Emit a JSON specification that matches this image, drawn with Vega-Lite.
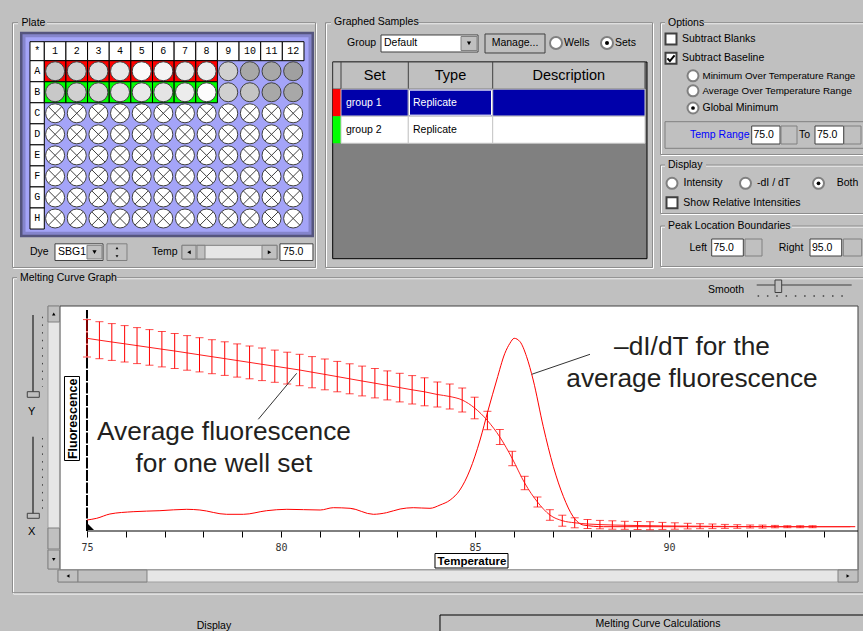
{
"$schema":"https://vega.github.io/schema/vega-lite/v6.json",
"background":"#c0c0c0",
"padding":0,
"autosize":{"type":"none"},
"width":863,
"height":631,
"data":{"values":[{}]},
"datasets":{
"wells":[
{"row":"A","rowNum":1,"col":1,"set":"group 1","signal":0.42},{"row":"A","rowNum":1,"col":2,"set":"group 1","signal":0.5},{"row":"A","rowNum":1,"col":3,"set":"group 1","signal":0.63},{"row":"A","rowNum":1,"col":4,"set":"group 1","signal":0.76},{"row":"A","rowNum":1,"col":5,"set":"group 1","signal":0.95},{"row":"A","rowNum":1,"col":6,"set":"group 1","signal":0.88},{"row":"A","rowNum":1,"col":7,"set":"group 1","signal":0.76},{"row":"A","rowNum":1,"col":8,"set":"group 1","signal":0.8},{"row":"A","rowNum":1,"col":9,"signal":0.5},{"row":"A","rowNum":1,"col":10,"signal":0.08},{"row":"A","rowNum":1,"col":11,"signal":0.08},{"row":"A","rowNum":1,"col":12,"signal":0},
{"row":"B","rowNum":2,"col":1,"set":"group 2","signal":0.42},{"row":"B","rowNum":2,"col":2,"set":"group 2","signal":0.5},{"row":"B","rowNum":2,"col":3,"set":"group 2","signal":0.55},{"row":"B","rowNum":2,"col":4,"set":"group 2","signal":0.67},{"row":"B","rowNum":2,"col":5,"set":"group 2","signal":0.76},{"row":"B","rowNum":2,"col":6,"set":"group 2","signal":0.72},{"row":"B","rowNum":2,"col":7,"set":"group 2","signal":0.8},{"row":"B","rowNum":2,"col":8,"set":"group 2","signal":0.97},{"row":"B","rowNum":2,"col":9,"signal":0.5},{"row":"B","rowNum":2,"col":10,"signal":0.38},{"row":"B","rowNum":2,"col":11,"signal":0.08},{"row":"B","rowNum":2,"col":12,"signal":0.08},
{"row":"C","rowNum":3,"col":1},{"row":"C","rowNum":3,"col":2},{"row":"C","rowNum":3,"col":3},{"row":"C","rowNum":3,"col":4},{"row":"C","rowNum":3,"col":5},{"row":"C","rowNum":3,"col":6},{"row":"C","rowNum":3,"col":7},{"row":"C","rowNum":3,"col":8},{"row":"C","rowNum":3,"col":9},{"row":"C","rowNum":3,"col":10},{"row":"C","rowNum":3,"col":11},{"row":"C","rowNum":3,"col":12},
{"row":"D","rowNum":4,"col":1},{"row":"D","rowNum":4,"col":2},{"row":"D","rowNum":4,"col":3},{"row":"D","rowNum":4,"col":4},{"row":"D","rowNum":4,"col":5},{"row":"D","rowNum":4,"col":6},{"row":"D","rowNum":4,"col":7},{"row":"D","rowNum":4,"col":8},{"row":"D","rowNum":4,"col":9},{"row":"D","rowNum":4,"col":10},{"row":"D","rowNum":4,"col":11},{"row":"D","rowNum":4,"col":12},
{"row":"E","rowNum":5,"col":1},{"row":"E","rowNum":5,"col":2},{"row":"E","rowNum":5,"col":3},{"row":"E","rowNum":5,"col":4},{"row":"E","rowNum":5,"col":5},{"row":"E","rowNum":5,"col":6},{"row":"E","rowNum":5,"col":7},{"row":"E","rowNum":5,"col":8},{"row":"E","rowNum":5,"col":9},{"row":"E","rowNum":5,"col":10},{"row":"E","rowNum":5,"col":11},{"row":"E","rowNum":5,"col":12},
{"row":"F","rowNum":6,"col":1},{"row":"F","rowNum":6,"col":2},{"row":"F","rowNum":6,"col":3},{"row":"F","rowNum":6,"col":4},{"row":"F","rowNum":6,"col":5},{"row":"F","rowNum":6,"col":6},{"row":"F","rowNum":6,"col":7},{"row":"F","rowNum":6,"col":8},{"row":"F","rowNum":6,"col":9},{"row":"F","rowNum":6,"col":10},{"row":"F","rowNum":6,"col":11},{"row":"F","rowNum":6,"col":12},
{"row":"G","rowNum":7,"col":1},{"row":"G","rowNum":7,"col":2},{"row":"G","rowNum":7,"col":3},{"row":"G","rowNum":7,"col":4},{"row":"G","rowNum":7,"col":5},{"row":"G","rowNum":7,"col":6},{"row":"G","rowNum":7,"col":7},{"row":"G","rowNum":7,"col":8},{"row":"G","rowNum":7,"col":9},{"row":"G","rowNum":7,"col":10},{"row":"G","rowNum":7,"col":11},{"row":"G","rowNum":7,"col":12},
{"row":"H","rowNum":8,"col":1},{"row":"H","rowNum":8,"col":2},{"row":"H","rowNum":8,"col":3},{"row":"H","rowNum":8,"col":4},{"row":"H","rowNum":8,"col":5},{"row":"H","rowNum":8,"col":6},{"row":"H","rowNum":8,"col":7},{"row":"H","rowNum":8,"col":8},{"row":"H","rowNum":8,"col":9},{"row":"H","rowNum":8,"col":10},{"row":"H","rowNum":8,"col":11},{"row":"H","rowNum":8,"col":12}
],
"samples":[
{"order":1,"set":"group 1","type":"Replicate","description":"","state":"selected"},
{"order":2,"set":"group 2","type":"Replicate","description":"","state":"normal"}
],
"curve":[
{"temp":75.00,"fluor":1927,"err":187},{"temp":75.32,"fluor":1908,"err":185},{"temp":75.64,"fluor":1890,"err":184},{"temp":75.97,"fluor":1872,"err":182},{"temp":76.29,"fluor":1854,"err":180},{"temp":76.61,"fluor":1836,"err":178},{"temp":76.93,"fluor":1818,"err":177},{"temp":77.26,"fluor":1800,"err":175},{"temp":77.58,"fluor":1781,"err":173},{"temp":77.90,"fluor":1762,"err":171},
{"temp":78.22,"fluor":1743,"err":170},{"temp":78.55,"fluor":1724,"err":168},{"temp":78.87,"fluor":1705,"err":166},{"temp":79.19,"fluor":1686,"err":164},{"temp":79.51,"fluor":1667,"err":163},{"temp":79.84,"fluor":1648,"err":161},{"temp":80.16,"fluor":1629,"err":159},{"temp":80.48,"fluor":1610,"err":157},{"temp":80.80,"fluor":1588,"err":156},{"temp":81.13,"fluor":1566,"err":154},
{"temp":81.45,"fluor":1544,"err":152},{"temp":81.77,"fluor":1522,"err":150},{"temp":82.09,"fluor":1500,"err":149},{"temp":82.42,"fluor":1478,"err":147},{"temp":82.74,"fluor":1456,"err":145},{"temp":83.06,"fluor":1434,"err":143},{"temp":83.38,"fluor":1412,"err":142},{"temp":83.70,"fluor":1392,"err":140},{"temp":84.03,"fluor":1365,"err":125},{"temp":84.35,"fluor":1345,"err":125},
{"temp":84.67,"fluor":1310,"err":120},{"temp":84.99,"fluor":1230,"err":108},{"temp":85.32,"fluor":1105,"err":92},{"temp":85.64,"fluor":940,"err":75},{"temp":85.96,"fluor":725,"err":72},{"temp":86.28,"fluor":480,"err":67},{"temp":86.61,"fluor":290,"err":50},{"temp":86.93,"fluor":160,"err":53},{"temp":87.25,"fluor":103,"err":55},{"temp":87.57,"fluor":82,"err":50},
{"temp":87.90,"fluor":70,"err":45},{"temp":88.22,"fluor":64,"err":42},{"temp":88.54,"fluor":60,"err":42},{"temp":88.86,"fluor":57,"err":40},{"temp":89.19,"fluor":55,"err":40},{"temp":89.51,"fluor":53,"err":40},{"temp":89.83,"fluor":51,"err":35},{"temp":90.15,"fluor":50,"err":32},{"temp":90.48,"fluor":49,"err":28},{"temp":90.80,"fluor":48,"err":25},
{"temp":91.12,"fluor":47,"err":23},{"temp":91.44,"fluor":46,"err":20},{"temp":91.76,"fluor":45,"err":18},{"temp":92.09,"fluor":45,"err":15},{"temp":92.41,"fluor":44,"err":15},{"temp":92.73,"fluor":44,"err":12},{"temp":93.05,"fluor":43,"err":10},{"temp":93.38,"fluor":43,"err":10},{"temp":93.70,"fluor":43,"err":10},{"temp":94.02,"fluor":43,"err":0},
{"temp":94.34,"fluor":43,"err":0},{"temp":94.67,"fluor":43,"err":0}
],
"derivative":[
{"temp":75.00,"value":110},{"temp":75.25,"value":127},{"temp":75.59,"value":170},{"temp":76.19,"value":193},{"temp":76.88,"value":203},{"temp":77.57,"value":217},{"temp":77.91,"value":210},{"temp":78.60,"value":167},{"temp":79.03,"value":167},{"temp":79.63,"value":203},
{"temp":80.15,"value":217},{"temp":81.01,"value":210},{"temp":81.35,"value":233},{"temp":81.78,"value":227},{"temp":82.38,"value":167},{"temp":82.72,"value":183},{"temp":83.07,"value":220},{"temp":83.41,"value":233},{"temp":83.84,"value":227},{"temp":84.10,"value":260},
{"temp":84.36,"value":310},{"temp":84.61,"value":410},{"temp":84.87,"value":610},{"temp":85.13,"value":910},{"temp":85.34,"value":1210},{"temp":85.56,"value":1510},{"temp":85.77,"value":1777},{"temp":85.90,"value":1877},{"temp":86.01,"value":1927},{"temp":86.16,"value":1893},
{"temp":86.33,"value":1743},{"temp":86.50,"value":1510},{"temp":86.76,"value":1043},{"temp":87.02,"value":643},{"temp":87.28,"value":343},{"temp":87.53,"value":143},{"temp":87.79,"value":60},{"temp":88.31,"value":43},{"temp":90.00,"value":43},{"temp":92.00,"value":43},{"temp":94.80,"value":43}
]
},
"resolve":{"scale":{"x":"independent","y":"independent","fill":"independent","color":"independent"},"axis":{"x":"independent","y":"independent"}},
"layer":[
{
"resolve":{"scale":{"fill":"independent"}},
"layer":[
{"mark":{"type":"rect","filled":false,"color":"#ffffff"},"encoding":{"x":{"datum":-0.9233,"type":"quantitative","scale":{"domain":[-1.547,38.333],"nice":false,"zero":false},"axis":null},"x2":{"datum":13.078},"y":{"datum":-1.2586,"type":"quantitative","scale":{"domain":[-2.385,27.606],"nice":false,"zero":false,"reverse":true},"axis":null},"y2":{"datum":10.377}}},
{"mark":{"type":"rect","filled":false,"color":"#8c8c8c"},"encoding":{"x":{"datum":-0.9695,"axis":null},"x2":{"datum":13.032},"y":{"datum":-1.306,"axis":null},"y2":{"datum":10.329}}},
{"mark":{"type":"rect","fill":"#c0c0c0"},"encoding":{"x":{"datum":-0.7153,"axis":null},"x2":{"datum":0.6248},"y":{"datum":-1.6245,"axis":null},"y2":{"datum":-1.0067}}},
{"mark":{"type":"text","text":"Plate"},"encoding":{"x":{"datum":-0.5536,"axis":null},"y":{"datum":-1.306,"axis":null}}},
{"mark":{"type":"rect","fill":"#55557e"},"encoding":{"x":{"datum":-0.6229,"axis":null},"x2":{"datum":12.963},"y":{"datum":-0.8783,"axis":null},"y2":{"datum":8.8935}}},
{"mark":{"type":"rect","fill":"#8585cc"},"encoding":{"x":{"datum":-0.5074,"axis":null},"x2":{"datum":12.8475},"y":{"datum":-0.7595,"axis":null},"y2":{"datum":8.7747}}},
{"mark":{"type":"rect","fill":"#a4a4f8"},"encoding":{"x":{"datum":-0.3688,"axis":null},"x2":{"datum":12.7089},"y":{"datum":-0.6169,"axis":null},"y2":{"datum":8.6321}}},
{"mark":{"type":"rect","fill":"#ffffff","stroke":"#000000"},"encoding":{"x":{"datum":-0.1608,"axis":null},"x2":{"datum":0.5},"y":{"datum":-0.403,"axis":null},"y2":{"datum":0.5}}},
{"mark":{"type":"text","text":"*","align":"center","font":"Liberation Mono","fontSize":10},"encoding":{"x":{"datum":0.1719,"axis":null},"y":{"datum":0.0485,"axis":null}}},
{"data":{"name":"wells"},"transform":[{"aggregate":[{"op":"count","as":"n"}],"groupby":["col"]}],"mark":{"type":"rect","fill":"#ffffff","stroke":"#000000","width":21.64},"encoding":{"x":{"field":"col","type":"quantitative","axis":null},"y":{"datum":-0.403,"axis":null},"y2":{"datum":0.5}}},
{"data":{"name":"wells"},"transform":[{"aggregate":[{"op":"count","as":"n"}],"groupby":["col"]}],"mark":{"type":"text","align":"center","font":"Liberation Mono","fontSize":10},"encoding":{"x":{"field":"col","type":"quantitative","axis":null},"y":{"datum":0.0485,"axis":null},"text":{"field":"col"}}},
{"data":{"name":"wells"},"transform":[{"aggregate":[{"op":"count","as":"n"}],"groupby":["row","rowNum"]}],"mark":{"type":"rect","fill":"#ffffff","stroke":"#000000","height":21.04},"encoding":{"x":{"datum":-0.1608,"axis":null},"x2":{"datum":0.5},"y":{"field":"rowNum","type":"quantitative","axis":null}}},
{"data":{"name":"wells"},"transform":[{"aggregate":[{"op":"count","as":"n"}],"groupby":["row","rowNum"]}],"mark":{"type":"text","align":"center","font":"Liberation Mono","fontSize":10},"encoding":{"x":{"datum":0.1719,"axis":null},"y":{"field":"rowNum","type":"quantitative","axis":null},"text":{"field":"row"}}},
{"data":{"name":"wells"},"transform":[{"filter":"datum.set != null"}],"mark":{"type":"rect","stroke":"#000000","width":21.64,"height":21.04},"encoding":{"x":{"field":"col","type":"quantitative","axis":null},"y":{"field":"rowNum","type":"quantitative","axis":null},"fill":{"field":"set","type":"nominal","scale":{"domain":["group 1","group 2"],"range":["#ff0000","#00ff00"]},"legend":null}}},
{"data":{"name":"wells"},"transform":[{"filter":"datum.signal != null"}],"mark":{"type":"point","shape":"circle","filled":true,"size":361,"stroke":"#404040","strokeWidth":1,"opacity":1},"encoding":{"x":{"field":"col","type":"quantitative","axis":null},"y":{"field":"rowNum","type":"quantitative","axis":null},"fill":{"field":"signal","type":"quantitative","scale":{"domain":[0,1],"range":["#a0a0a0","#ffffff"],"interpolate":"rgb"},"legend":null}}},
{"data":{"name":"wells"},"transform":[{"filter":"datum.signal == null"}],"mark":{"type":"point","shape":"circle","filled":true,"fill":"#ffffff","size":361,"stroke":"#404040","strokeWidth":1,"opacity":1},"encoding":{"x":{"field":"col","type":"quantitative","axis":null},"y":{"field":"rowNum","type":"quantitative","axis":null}}},
{"data":{"name":"wells"},"transform":[{"filter":"datum.signal == null"}],"mark":{"type":"point","shape":"M-0.7,-0.7L0.7,0.7M-0.7,0.7L0.7,-0.7","filled":false,"size":361,"stroke":"#404040","strokeWidth":1,"opacity":1},"encoding":{"x":{"field":"col","type":"quantitative","axis":null},"y":{"field":"rowNum","type":"quantitative","axis":null}}},
{"mark":{"type":"text","text":"Dye"},"encoding":{"x":{"datum":-0.1608,"axis":null},"y":{"datum":9.5922,"axis":null}}},
{"mark":{"type":"rect","fill":"#ffffff","stroke":"#404040"},"encoding":{"x":{"datum":0.9945,"axis":null},"x2":{"datum":3.2126},"y":{"datum":9.2034,"axis":null},"y2":{"datum":9.9962}}},
{"mark":{"type":"text","text":"SBG1"},"encoding":{"x":{"datum":1.1331,"axis":null},"y":{"datum":9.5922,"axis":null}}},
{"mark":{"type":"rect","fill":"#c0c0c0","stroke":"#808080"},"encoding":{"x":{"datum":2.4732,"axis":null},"x2":{"datum":3.1664},"y":{"datum":9.2747,"axis":null},"y2":{"datum":9.9249}}},
{"mark":{"type":"point","shape":"triangle-down","filled":true,"color":"#000000","size":18,"opacity":1},"encoding":{"x":{"datum":2.8198,"axis":null},"y":{"datum":9.6,"axis":null}}},
{"mark":{"type":"rect","fill":"#c0c0c0","stroke":"#808080"},"encoding":{"x":{"datum":3.3974,"axis":null},"x2":{"datum":4.3216},"y":{"datum":9.2034,"axis":null},"y2":{"datum":9.9962}}},
{"mark":{"type":"point","shape":"triangle-up","filled":true,"color":"#000000","size":8,"opacity":1},"encoding":{"x":{"datum":3.8595,"axis":null},"y":{"datum":9.40,"axis":null}}},
{"mark":{"type":"point","shape":"triangle-down","filled":true,"color":"#000000","size":8,"opacity":1},"encoding":{"x":{"datum":3.8595,"axis":null},"y":{"datum":9.80,"axis":null}}},
{"mark":{"type":"text","text":"Temp"},"encoding":{"x":{"datum":5.4769,"axis":null},"y":{"datum":9.5922,"axis":null}}},
{"mark":{"type":"rect","fill":"#e6e6e6","stroke":"#808080"},"encoding":{"x":{"datum":6.8632,"axis":null},"x2":{"datum":11.2532},"y":{"datum":9.2747,"axis":null},"y2":{"datum":9.9249}}},
{"mark":{"type":"rect","fill":"#c0c0c0","stroke":"#808080"},"encoding":{"x":{"datum":6.8632,"axis":null},"x2":{"datum":7.5102},"y":{"datum":9.2747,"axis":null},"y2":{"datum":9.9249}}},
{"mark":{"type":"rect","fill":"#c0c0c0","stroke":"#808080"},"encoding":{"x":{"datum":7.5564,"axis":null},"x2":{"datum":7.9261},"y":{"datum":9.2747,"axis":null},"y2":{"datum":9.9249}}},
{"mark":{"type":"rect","fill":"#c0c0c0","stroke":"#808080"},"encoding":{"x":{"datum":10.5601,"axis":null},"x2":{"datum":11.2532},"y":{"datum":9.2747,"axis":null},"y2":{"datum":9.9249}}},
{"mark":{"type":"point","shape":"triangle-left","filled":true,"color":"#000000","size":16,"opacity":1},"encoding":{"x":{"datum":7.1867,"axis":null},"y":{"datum":9.5998,"axis":null}}},
{"mark":{"type":"point","shape":"triangle-right","filled":true,"color":"#000000","size":16,"opacity":1},"encoding":{"x":{"datum":10.9067,"axis":null},"y":{"datum":9.5998,"axis":null}}},
{"mark":{"type":"rect","fill":"#ffffff","stroke":"#404040"},"encoding":{"x":{"datum":11.39,"axis":null},"x2":{"datum":12.915},"y":{"datum":9.2034,"axis":null},"y2":{"datum":9.9962}}},
{"mark":{"type":"text","text":"75.0"},"encoding":{"x":{"datum":11.5286,"axis":null},"y":{"datum":9.5922,"axis":null}}}
]
},
{
"resolve":{"scale":{"fill":"independent"}},
"layer":[
{"mark":{"type":"rect","filled":false,"color":"#ffffff"},"encoding":{"x":{"datum":1.5,"type":"quantitative","scale":{"domain":[-325,538],"nice":false,"zero":false},"axis":null},"x2":{"datum":328.5},"y":{"datum":-1.9133,"type":"quantitative","scale":{"domain":[-2.7878,20.4963],"nice":false,"zero":false,"reverse":true},"axis":null},"y2":{"datum":7.1199}}},
{"mark":{"type":"rect","filled":false,"color":"#8c8c8c"},"encoding":{"x":{"datum":0.5,"axis":null},"x2":{"datum":327.5},"y":{"datum":-1.9502,"axis":null},"y2":{"datum":7.083}}},
{"mark":{"type":"rect","fill":"#c0c0c0"},"encoding":{"x":{"datum":6,"axis":null},"x2":{"datum":92},"y":{"datum":-2.1974,"axis":null},"y2":{"datum":-1.7177}}},
{"mark":{"type":"text","text":"Graphed Samples"},"encoding":{"x":{"datum":9,"axis":null},"y":{"datum":-1.9576,"axis":null}}},
{"mark":{"type":"text","text":"Group"},"encoding":{"x":{"datum":22,"axis":null},"y":{"datum":-1.2011,"axis":null}}},
{"mark":{"type":"rect","fill":"#ffffff","stroke":"#404040"},"encoding":{"x":{"datum":56,"axis":null},"x2":{"datum":153},"y":{"datum":-1.4963,"axis":null},"y2":{"datum":-0.869}}},
{"mark":{"type":"text","text":"Default"},"encoding":{"x":{"datum":59,"axis":null},"y":{"datum":-1.2011,"axis":null}}},
{"mark":{"type":"rect","fill":"#c0c0c0","stroke":"#808080"},"encoding":{"x":{"datum":136,"axis":null},"x2":{"datum":152},"y":{"datum":-1.441,"axis":null},"y2":{"datum":-0.9244}}},
{"mark":{"type":"point","shape":"triangle-down","filled":true,"color":"#000000","size":18,"opacity":1},"encoding":{"x":{"datum":144,"axis":null},"y":{"datum":-1.19,"axis":null}}},
{"mark":{"type":"rect","fill":"#c0c0c0","stroke":"#404040"},"encoding":{"x":{"datum":160,"axis":null},"x2":{"datum":220},"y":{"datum":-1.5332,"axis":null},"y2":{"datum":-0.8321}}},
{"mark":{"type":"text","text":"Manage...","align":"center"},"encoding":{"x":{"datum":190,"axis":null},"y":{"datum":-1.2011,"axis":null}}},
{"mark":{"type":"point","shape":"circle","filled":true,"fill":"#ffffff","stroke":"#808080","size":144,"opacity":1},"encoding":{"x":{"datum":231,"axis":null},"y":{"datum":-1.2011,"axis":null}}},
{"mark":{"type":"text","text":"Wells"},"encoding":{"x":{"datum":239,"axis":null},"y":{"datum":-1.2011,"axis":null}}},
{"mark":{"type":"point","shape":"circle","filled":true,"fill":"#ffffff","stroke":"#808080","size":144,"opacity":1},"encoding":{"x":{"datum":282,"axis":null},"y":{"datum":-1.2011,"axis":null}}},
{"mark":{"type":"point","shape":"circle","filled":true,"color":"#000000","size":16,"opacity":1},"encoding":{"x":{"datum":282,"axis":null},"y":{"datum":-1.2011,"axis":null}}},
{"mark":{"type":"text","text":"Sets"},"encoding":{"x":{"datum":290,"axis":null},"y":{"datum":-1.2011,"axis":null}}},
{"mark":{"type":"rect","fill":"#808080","stroke":"#000000"},"encoding":{"x":{"datum":7.7,"axis":null},"x2":{"datum":322},"y":{"datum":-0.5,"axis":null},"y2":{"datum":6.7583}}},
{"mark":{"type":"rect","fill":"#c0c0c0","stroke":"#404040"},"encoding":{"x":{"datum":7.7,"axis":null},"x2":{"datum":320},"y":{"datum":-0.5,"axis":null},"y2":{"datum":0.5}}},
{"mark":{"type":"rule","color":"#404040"},"encoding":{"x":{"datum":16,"axis":null},"y":{"datum":-0.5,"axis":null},"y2":{"datum":0.5}}},
{"mark":{"type":"rule","color":"#404040"},"encoding":{"x":{"datum":83.3,"axis":null},"y":{"datum":-0.5,"axis":null},"y2":{"datum":0.5}}},
{"mark":{"type":"rule","color":"#404040"},"encoding":{"x":{"datum":167.7,"axis":null},"y":{"datum":-0.5,"axis":null},"y2":{"datum":0.5}}},
{"mark":{"type":"text","text":"Set","align":"center","fontSize":14.5},"encoding":{"x":{"datum":49.6,"axis":null},"y":{"datum":0.02,"axis":null}}},
{"mark":{"type":"text","text":"Type","align":"center","fontSize":14.5},"encoding":{"x":{"datum":125.5,"axis":null},"y":{"datum":0.02,"axis":null}}},
{"mark":{"type":"text","text":"Description","align":"center","fontSize":14.5},"encoding":{"x":{"datum":243.8,"axis":null},"y":{"datum":0.02,"axis":null}}},
{"data":{"name":"samples"},"mark":{"type":"rect","height":27},"encoding":{"x":{"datum":7.7,"axis":null},"x2":{"datum":16},"y":{"field":"order","type":"quantitative","axis":null},"fill":{"field":"set","type":"nominal","scale":{"domain":["group 1","group 2"],"range":["#ff0000","#00ff00"]},"legend":null}}},
{"data":{"name":"samples"},"mark":{"type":"rect","height":27,"stroke":"#c8c8c8"},"encoding":{"x":{"datum":16,"axis":null},"x2":{"datum":83.3},"y":{"field":"order","type":"quantitative","axis":null},"fill":{"field":"state","type":"nominal","scale":{"domain":["selected","normal"],"range":["#0000aa","#ffffff"]},"legend":null}}},
{"data":{"name":"samples"},"mark":{"type":"rect","height":27,"stroke":"#c8c8c8"},"encoding":{"x":{"datum":83.3,"axis":null},"x2":{"datum":167.7},"y":{"field":"order","type":"quantitative","axis":null},"fill":{"field":"state","type":"nominal","scale":{"domain":["selected","normal"],"range":["#0000aa","#ffffff"]},"legend":null}}},
{"data":{"name":"samples"},"mark":{"type":"rect","height":27,"stroke":"#c8c8c8"},"encoding":{"x":{"datum":167.7,"axis":null},"x2":{"datum":320},"y":{"field":"order","type":"quantitative","axis":null},"fill":{"field":"state","type":"nominal","scale":{"domain":["selected","normal"],"range":["#0000aa","#ffffff"]},"legend":null}}},
{"data":{"name":"samples"},"transform":[{"filter":"datum.state == 'selected'"}],"mark":{"type":"rect","height":25,"filled":false,"color":"#ffffff"},"encoding":{"x":{"datum":84.5,"axis":null},"x2":{"datum":166.5},"y":{"field":"order","type":"quantitative","axis":null}}},
{"data":{"name":"samples"},"mark":{"type":"text"},"encoding":{"x":{"datum":21,"axis":null},"y":{"field":"order","type":"quantitative","axis":null},"text":{"field":"set"},"fill":{"field":"state","type":"nominal","scale":{"domain":["selected","normal"],"range":["#ffffff","#000000"]},"legend":null}}},
{"data":{"name":"samples"},"mark":{"type":"text"},"encoding":{"x":{"datum":88,"axis":null},"y":{"field":"order","type":"quantitative","axis":null},"text":{"field":"type"},"fill":{"field":"state","type":"nominal","scale":{"domain":["selected","normal"],"range":["#ffffff","#000000"]},"legend":null}}}
]
},
{
"layer":[
{"mark":{"type":"rect","filled":false,"color":"#ffffff","clip":true},"encoding":{"x":{"datum":1.5,"type":"quantitative","scale":{"domain":[-660,203],"nice":false,"zero":false},"axis":null},"x2":{"datum":216},"y":{"datum":23.7,"type":"quantitative","scale":{"domain":[0,631],"nice":false,"zero":false,"reverse":true},"axis":null},"y2":{"datum":155.5}}},
{"mark":{"type":"rect","filled":false,"color":"#8c8c8c","clip":true},"encoding":{"x":{"datum":0.5,"axis":null},"x2":{"datum":215},"y":{"datum":22.7,"axis":null},"y2":{"datum":154.5}}},
{"mark":{"type":"rect","filled":false,"color":"#ffffff","clip":true},"encoding":{"x":{"datum":1.5,"axis":null},"x2":{"datum":216},"y":{"datum":166,"axis":null},"y2":{"datum":214.5}}},
{"mark":{"type":"rect","filled":false,"color":"#8c8c8c","clip":true},"encoding":{"x":{"datum":0.5,"axis":null},"x2":{"datum":215},"y":{"datum":165,"axis":null},"y2":{"datum":213.5}}},
{"mark":{"type":"rect","filled":false,"color":"#ffffff","clip":true},"encoding":{"x":{"datum":1.5,"axis":null},"x2":{"datum":216},"y":{"datum":227,"axis":null},"y2":{"datum":267.5}}},
{"mark":{"type":"rect","filled":false,"color":"#8c8c8c","clip":true},"encoding":{"x":{"datum":0.5,"axis":null},"x2":{"datum":215},"y":{"datum":226,"axis":null},"y2":{"datum":266.5}}},
{"mark":{"type":"rect","fill":"#c0c0c0"},"encoding":{"x":{"datum":5,"axis":null},"x2":{"datum":44},"y":{"datum":16,"axis":null},"y2":{"datum":29}}},
{"mark":{"type":"text","text":"Options"},"encoding":{"x":{"datum":8,"axis":null},"y":{"datum":22.5,"axis":null}}},
{"mark":{"type":"rect","fill":"#c0c0c0"},"encoding":{"x":{"datum":5,"axis":null},"x2":{"datum":46},"y":{"datum":158,"axis":null},"y2":{"datum":171}}},
{"mark":{"type":"text","text":"Display"},"encoding":{"x":{"datum":8,"axis":null},"y":{"datum":164.5,"axis":null}}},
{"mark":{"type":"rect","fill":"#c0c0c0"},"encoding":{"x":{"datum":5,"axis":null},"x2":{"datum":132},"y":{"datum":219,"axis":null},"y2":{"datum":232}}},
{"mark":{"type":"text","text":"Peak Location Boundaries"},"encoding":{"x":{"datum":8,"axis":null},"y":{"datum":225.5,"axis":null}}},
{"mark":{"type":"point","shape":"square","filled":true,"fill":"#ffffff","stroke":"#404040","size":121,"opacity":1},"encoding":{"x":{"datum":11,"axis":null},"y":{"datum":39,"axis":null}}},
{"mark":{"type":"text","text":"Subtract Blanks"},"encoding":{"x":{"datum":22,"axis":null},"y":{"datum":39,"axis":null}}},
{"mark":{"type":"point","shape":"square","filled":true,"fill":"#ffffff","stroke":"#404040","size":121,"opacity":1},"encoding":{"x":{"datum":11,"axis":null},"y":{"datum":58.3,"axis":null}}},
{"mark":{"type":"point","shape":"M-0.65,0L-0.2,0.5L0.65,-0.55","filled":false,"stroke":"#000000","strokeWidth":2,"size":121,"opacity":1},"encoding":{"x":{"datum":11,"axis":null},"y":{"datum":58.3,"axis":null}}},
{"mark":{"type":"text","text":"Subtract Baseline"},"encoding":{"x":{"datum":22,"axis":null},"y":{"datum":58.3,"axis":null}}},
{"mark":{"type":"point","shape":"circle","filled":true,"fill":"#ffffff","stroke":"#808080","size":121,"opacity":1},"encoding":{"x":{"datum":33,"axis":null},"y":{"datum":75.8,"axis":null}}},
{"mark":{"type":"text","text":"Minimum Over Temperature Range","fontSize":9.8},"encoding":{"x":{"datum":42.5,"axis":null},"y":{"datum":75.8,"axis":null}}},
{"mark":{"type":"point","shape":"circle","filled":true,"fill":"#ffffff","stroke":"#808080","size":121,"opacity":1},"encoding":{"x":{"datum":33,"axis":null},"y":{"datum":90.8,"axis":null}}},
{"mark":{"type":"text","text":"Average Over Temperature Range","fontSize":9.8},"encoding":{"x":{"datum":42.5,"axis":null},"y":{"datum":90.8,"axis":null}}},
{"mark":{"type":"point","shape":"circle","filled":true,"fill":"#ffffff","stroke":"#808080","size":121,"opacity":1},"encoding":{"x":{"datum":33,"axis":null},"y":{"datum":108,"axis":null}}},
{"mark":{"type":"point","shape":"circle","filled":true,"color":"#000000","size":14,"opacity":1},"encoding":{"x":{"datum":33,"axis":null},"y":{"datum":108,"axis":null}}},
{"mark":{"type":"text","text":"Global Minimum"},"encoding":{"x":{"datum":42.5,"axis":null},"y":{"datum":108,"axis":null}}},
{"mark":{"type":"rect","filled":false,"color":"#808080","clip":true},"encoding":{"x":{"datum":5,"axis":null},"x2":{"datum":215},"y":{"datum":121.7,"axis":null},"y2":{"datum":148.3}}},
{"mark":{"type":"text","text":"Temp Range","color":"#0000ff"},"encoding":{"x":{"datum":30,"axis":null},"y":{"datum":135,"axis":null}}},
{"mark":{"type":"rect","fill":"#ffffff","stroke":"#404040"},"encoding":{"x":{"datum":91.7,"axis":null},"x2":{"datum":120},"y":{"datum":126,"axis":null},"y2":{"datum":144}}},
{"mark":{"type":"text","text":"75.0"},"encoding":{"x":{"datum":93.5,"axis":null},"y":{"datum":135,"axis":null}}},
{"mark":{"type":"rect","fill":"#c0c0c0","stroke":"#808080"},"encoding":{"x":{"datum":121,"axis":null},"x2":{"datum":137},"y":{"datum":126,"axis":null},"y2":{"datum":144}}},
{"mark":{"type":"text","text":"To"},"encoding":{"x":{"datum":139,"axis":null},"y":{"datum":135,"axis":null}}},
{"mark":{"type":"rect","fill":"#ffffff","stroke":"#404040"},"encoding":{"x":{"datum":155,"axis":null},"x2":{"datum":183.5},"y":{"datum":126,"axis":null},"y2":{"datum":144}}},
{"mark":{"type":"text","text":"75.0"},"encoding":{"x":{"datum":157,"axis":null},"y":{"datum":135,"axis":null}}},
{"mark":{"type":"rect","fill":"#c0c0c0","stroke":"#808080"},"encoding":{"x":{"datum":184,"axis":null},"x2":{"datum":201},"y":{"datum":126,"axis":null},"y2":{"datum":144}}},
{"mark":{"type":"point","shape":"circle","filled":true,"fill":"#ffffff","stroke":"#808080","size":121,"opacity":1},"encoding":{"x":{"datum":12,"axis":null},"y":{"datum":183.3,"axis":null}}},
{"mark":{"type":"text","text":"Intensity"},"encoding":{"x":{"datum":23.5,"axis":null},"y":{"datum":183.3,"axis":null}}},
{"mark":{"type":"point","shape":"circle","filled":true,"fill":"#ffffff","stroke":"#808080","size":121,"opacity":1},"encoding":{"x":{"datum":85.5,"axis":null},"y":{"datum":183.3,"axis":null}}},
{"mark":{"type":"text","text":"-dI / dT"},"encoding":{"x":{"datum":97,"axis":null},"y":{"datum":183.3,"axis":null}}},
{"mark":{"type":"point","shape":"circle","filled":true,"fill":"#ffffff","stroke":"#808080","size":121,"opacity":1},"encoding":{"x":{"datum":158.5,"axis":null},"y":{"datum":183.3,"axis":null}}},
{"mark":{"type":"point","shape":"circle","filled":true,"color":"#000000","size":14,"opacity":1},"encoding":{"x":{"datum":158.5,"axis":null},"y":{"datum":183.3,"axis":null}}},
{"mark":{"type":"text","text":"Both"},"encoding":{"x":{"datum":176.7,"axis":null},"y":{"datum":183.3,"axis":null}}},
{"mark":{"type":"point","shape":"square","filled":true,"fill":"#ffffff","stroke":"#404040","size":121,"opacity":1},"encoding":{"x":{"datum":12,"axis":null},"y":{"datum":202.8,"axis":null}}},
{"mark":{"type":"text","text":"Show Relative Intensities"},"encoding":{"x":{"datum":23.3,"axis":null},"y":{"datum":202.8,"axis":null}}},
{"mark":{"type":"text","text":"Left","align":"right"},"encoding":{"x":{"datum":47,"axis":null},"y":{"datum":247.5,"axis":null}}},
{"mark":{"type":"rect","fill":"#ffffff","stroke":"#404040"},"encoding":{"x":{"datum":51.7,"axis":null},"x2":{"datum":83.3},"y":{"datum":239,"axis":null},"y2":{"datum":256}}},
{"mark":{"type":"text","text":"75.0"},"encoding":{"x":{"datum":53.5,"axis":null},"y":{"datum":247.5,"axis":null}}},
{"mark":{"type":"rect","fill":"#c0c0c0","stroke":"#808080"},"encoding":{"x":{"datum":85,"axis":null},"x2":{"datum":102},"y":{"datum":239,"axis":null},"y2":{"datum":256}}},
{"mark":{"type":"text","text":"Right","align":"right"},"encoding":{"x":{"datum":143.3,"axis":null},"y":{"datum":247.5,"axis":null}}},
{"mark":{"type":"rect","fill":"#ffffff","stroke":"#404040"},"encoding":{"x":{"datum":150,"axis":null},"x2":{"datum":181.7},"y":{"datum":239,"axis":null},"y2":{"datum":256}}},
{"mark":{"type":"text","text":"95.0"},"encoding":{"x":{"datum":152,"axis":null},"y":{"datum":247.5,"axis":null}}},
{"mark":{"type":"rect","fill":"#c0c0c0","stroke":"#808080"},"encoding":{"x":{"datum":183.3,"axis":null},"x2":{"datum":201.7},"y":{"datum":239,"axis":null},"y2":{"datum":256}}}
]
},
{
"layer":[
{"mark":{"type":"rect","filled":false,"color":"#ffffff","clip":true},"encoding":{
"x":{"datum":73.106,"type":"quantitative","scale":{"domain":[72.758,95.0],"nice":false,"zero":false},
"axis":{"orient":"bottom","offset":-100,"values":[75,76,77,78,79,80,81,82,83,84,85,86,87,88,89,90,91,92,93,94],"domain":false,"grid":false,"tickSize":6,"tickColor":"#000000","tickWidth":1,"labelExpr":"datum.value % 5 === 0 ? datum.label : ''","labelFont":"DejaVu Sans Mono","labelFontSize":10,"labelColor":"#333333","labelPadding":5,"labelFlush":false,"labelOverlap":false,"title":"Temperature","titleFont":"Liberation Sans","titleFontSize":11.5,"titleFontWeight":"bold","titleColor":"#000000","titleX":471.5,"titleY":30,"titleBaseline":"middle","titleAlign":"center","zindex":1}},
"x2":{"datum":96},
"y":{"datum":2523,"type":"quantitative","scale":{"domain":[-1000,5310],"nice":false,"zero":false},
"axis":{"orient":"left","offset":-87,"domain":false,"ticks":false,"labels":false,"grid":false,"title":"Fluorescence","titleFont":"Liberation Sans","titleFontSize":12.5,"titleFontWeight":"bold","titleColor":"#000000","titleAngle":270,"titleX":-15,"titleY":418.3,"titleBaseline":"middle","titleAlign":"center","zindex":1}},
"y2":{"datum":-630}}},
{"mark":{"type":"rect","filled":false,"color":"#8c8c8c","clip":true},"encoding":{"x":{"datum":73.08},"x2":{"datum":96},"y":{"datum":2533},"y2":{"datum":-617}}},
{"mark":{"type":"rect","fill":"#c0c0c0"},"encoding":{"x":{"datum":73.196},"x2":{"datum":75.773},"y":{"datum":2600},"y2":{"datum":2470}}},
{"mark":{"type":"text","text":"Melting Curve Graph"},"encoding":{"x":{"datum":73.273},"y":{"datum":2535}}},
{"mark":{"type":"rect","fill":"#ffffff","stroke":"#404040"},"encoding":{"x":{"datum":74.304},"x2":{"datum":94.871},"y":{"datum":2250},"y2":{"datum":-390}}},
{"mark":{"type":"rect","fill":"#e6e6e6","stroke":"#a0a0a0"},"encoding":{"x":{"datum":73.995},"x2":{"datum":74.291},"y":{"datum":2250},"y2":{"datum":-380}}},
{"mark":{"type":"rect","fill":"#c0c0c0","stroke":"#808080"},"encoding":{"x":{"datum":73.995},"x2":{"datum":74.291},"y":{"datum":2250},"y2":{"datum":2090}}},
{"mark":{"type":"rect","fill":"#c0c0c0","stroke":"#808080"},"encoding":{"x":{"datum":73.995},"x2":{"datum":74.291},"y":{"datum":30},"y2":{"datum":-180}}},
{"mark":{"type":"rect","fill":"#c0c0c0","stroke":"#808080"},"encoding":{"x":{"datum":73.995},"x2":{"datum":74.291},"y":{"datum":-190},"y2":{"datum":-380}}},
{"mark":{"type":"point","shape":"triangle-up","filled":true,"color":"#000000","size":12,"opacity":1},"encoding":{"x":{"datum":74.143},"y":{"datum":2170}}},
{"mark":{"type":"point","shape":"triangle-down","filled":true,"color":"#000000","size":12,"opacity":1},"encoding":{"x":{"datum":74.143},"y":{"datum":-285}}},
{"mark":{"type":"rect","fill":"#e6e6e6","stroke":"#a0a0a0"},"encoding":{"x":{"datum":74.253},"x2":{"datum":94.871},"y":{"datum":-390},"y2":{"datum":-510}}},
{"mark":{"type":"rect","fill":"#c0c0c0","stroke":"#808080"},"encoding":{"x":{"datum":74.253},"x2":{"datum":74.768},"y":{"datum":-390},"y2":{"datum":-510}}},
{"mark":{"type":"rect","fill":"#c0c0c0","stroke":"#808080"},"encoding":{"x":{"datum":74.768},"x2":{"datum":76.546},"y":{"datum":-390},"y2":{"datum":-510}}},
{"mark":{"type":"rect","fill":"#c0c0c0","stroke":"#808080"},"encoding":{"x":{"datum":94.356},"x2":{"datum":94.871},"y":{"datum":-390},"y2":{"datum":-510}}},
{"mark":{"type":"point","shape":"triangle-left","filled":true,"color":"#000000","size":12,"opacity":1},"encoding":{"x":{"datum":74.51},"y":{"datum":-450}}},
{"mark":{"type":"point","shape":"triangle-right","filled":true,"color":"#000000","size":12,"opacity":1},"encoding":{"x":{"datum":94.613},"y":{"datum":-450}}},
{"mark":{"type":"rule","color":"#606060","strokeWidth":2},"encoding":{"x":{"datum":73.608},"y":{"datum":2160},"y2":{"datum":1370}}},
{"mark":{"type":"rule","color":"#404040","strokeWidth":1,"strokeDash":[1.5,6.2]},"encoding":{"x":{"datum":73.853},"y":{"datum":2143},"y2":{"datum":1443}}},
{"mark":{"type":"rect","fill":"#c0c0c0","stroke":"#404040"},"encoding":{"x":{"datum":73.461},"x2":{"datum":73.771},"y":{"datum":1393},"y2":{"datum":1337}}},
{"mark":{"type":"text","text":"Y","align":"center","fontSize":11},"encoding":{"x":{"datum":73.575},"y":{"datum":1193}}},
{"mark":{"type":"rule","color":"#606060","strokeWidth":2},"encoding":{"x":{"datum":73.608},"y":{"datum":943},"y2":{"datum":160}}},
{"mark":{"type":"rule","color":"#404040","strokeWidth":1,"strokeDash":[1.5,6.2]},"encoding":{"x":{"datum":73.853},"y":{"datum":930},"y2":{"datum":193}}},
{"mark":{"type":"rect","fill":"#c0c0c0","stroke":"#404040"},"encoding":{"x":{"datum":73.461},"x2":{"datum":73.771},"y":{"datum":177},"y2":{"datum":127}}},
{"mark":{"type":"text","text":"X","align":"center","fontSize":11},"encoding":{"x":{"datum":73.575},"y":{"datum":-7}}},
{"mark":{"type":"text","text":"Smooth","align":"center"},"encoding":{"x":{"datum":91.469},"y":{"datum":2410}}},
{"mark":{"type":"rule","color":"#808080","strokeWidth":2},"encoding":{"x":{"datum":92.26},"x2":{"datum":94.708},"y":{"datum":2460}}},
{"mark":{"type":"rule","color":"#404040","strokeWidth":1.5,"strokeDash":[1.5,7.8]},"encoding":{"x":{"datum":92.284},"x2":{"datum":94.655},"y":{"datum":2350}}},
{"mark":{"type":"rect","fill":"#c0c0c0","stroke":"#404040"},"encoding":{"x":{"datum":92.732},"x2":{"datum":92.904},"y":{"datum":2510},"y2":{"datum":2385}}},
{"mark":{"type":"rule","color":"#000000","strokeWidth":1},"encoding":{"x":{"datum":75},"x2":{"datum":94.871},"y":{"datum":0}}},
{"mark":{"type":"rule","color":"#000000","strokeWidth":2,"strokeDash":[11,1.5]},"encoding":{"x":{"datum":75},"y":{"datum":0},"y2":{"datum":2210}}},
{"mark":{"type":"point","shape":"M-1,-1L-1,1L1,1Z","filled":true,"color":"#000000","size":64,"opacity":1},"encoding":{"x":{"datum":75.077},"y":{"datum":50}}},
{"mark":{"type":"rect","fill":"#ffffff","stroke":"#000000"},"encoding":{"x":{"datum":83.969},"x2":{"datum":85.851},"y":{"datum":-225},"y2":{"datum":-370}}},
{"mark":{"type":"rect","fill":"#ffffff","stroke":"#000000"},"encoding":{"x":{"datum":74.42},"x2":{"datum":74.807},"y":{"datum":1545},"y2":{"datum":705}}},
{"data":{"name":"derivative"},"mark":{"type":"line","color":"#ff0000","strokeWidth":1,"interpolate":"monotone"},"encoding":{"x":{"field":"temp","type":"quantitative","title":"Temperature"},"y":{"field":"value","type":"quantitative","title":"Fluorescence"}}},
{"data":{"name":"curve"},"mark":{"type":"line","color":"#ff2020","strokeWidth":1,"interpolate":"monotone"},"encoding":{"x":{"field":"temp","type":"quantitative","title":"Temperature"},"y":{"field":"fluor","type":"quantitative","title":"Fluorescence"}}},
{"data":{"name":"curve"},"transform":[{"filter":"datum.err > 0"}],"mark":{"type":"errorbar","ticks":{"size":8},"color":"#ff0000"},"encoding":{"x":{"field":"temp","type":"quantitative","title":"Temperature"},"y":{"field":"fluor","type":"quantitative","title":"Fluorescence"},"yError":{"field":"err"}}},
{"mark":{"type":"rule","color":"#333333","strokeWidth":1},"encoding":{"x":{"datum":79.415},"y":{"datum":1117},"x2":{"datum":80.404},"y2":{"datum":1577}}},
{"mark":{"type":"rule","color":"#333333","strokeWidth":1},"encoding":{"x":{"datum":87.964},"y":{"datum":1767},"x2":{"datum":86.461},"y2":{"datum":1567}}},
{"mark":{"type":"text","text":["Average fluorescence","for one well set"],"font":"Liberation Sans","fontSize":26.3,"lineHeight":31.7,"align":"center","baseline":"alphabetic","color":"#231f20"},"encoding":{"x":{"datum":78.531},"y":{"datum":910}}},
{"mark":{"type":"text","text":["–dI/dT for the","average fluorescence"],"font":"Liberation Sans","fontSize":26.3,"lineHeight":31.7,"align":"center","baseline":"alphabetic","color":"#231f20"},"encoding":{"x":{"datum":90.593},"y":{"datum":1760}}},
{"mark":{"type":"rect","filled":false,"color":"#000000","clip":true},"encoding":{"x":{"datum":84.098},"x2":{"datum":95.5},"y":{"datum":-840},"y2":{"datum":-1100}}},
{"mark":{"type":"text","text":"Display","align":"center"},"encoding":{"x":{"datum":78.273},"y":{"datum":-950}}},
{"mark":{"type":"text","text":"Melting Curve Calculations","align":"center"},"encoding":{"x":{"datum":89.716},"y":{"datum":-930}}}
]
}
],
"config":{
"view":{"stroke":null},
"text":{"font":"Liberation Sans","fontSize":10.5,"baseline":"middle","align":"left","color":"#000000"}
}
}
